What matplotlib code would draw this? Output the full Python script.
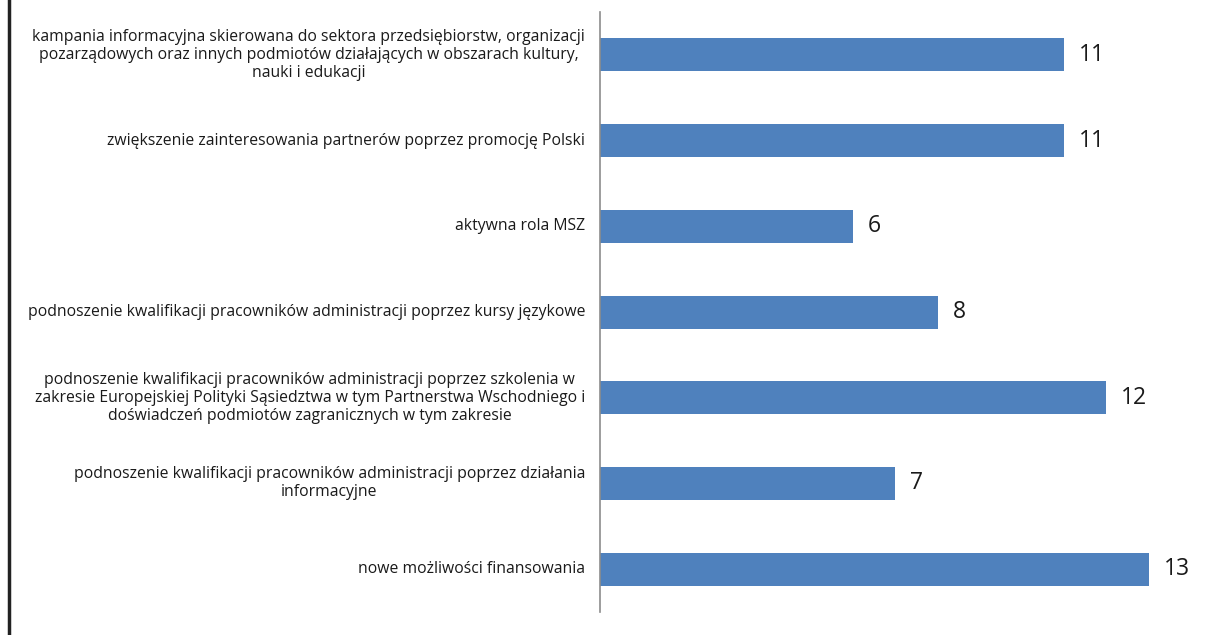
import matplotlib
matplotlib.use("Agg")
import matplotlib.pyplot as plt
from matplotlib.lines import Line2D

categories = [
    "kampania informacyjna skierowana do sektora przedsiębiorstw, organizacji\npozarządowych oraz innych podmiotów działających w obszarach kultury,\nnauki i edukacji",
    "zwiększenie zainteresowania partnerów poprzez promocję Polski",
    "aktywna rola MSZ",
    "podnoszenie kwalifikacji pracowników administracji poprzez kursy językowe",
    "podnoszenie kwalifikacji pracowników administracji poprzez szkolenia w\nzakresie Europejskiej Polityki Sąsiedztwa w tym Partnerstwa Wschodniego i\ndoświadczeń podmiotów zagranicznych w tym zakresie",
    "podnoszenie kwalifikacji pracowników administracji poprzez działania\ninformacyjne",
    "nowe możliwości finansowania",
]
values = [11, 11, 6, 8, 12, 7, 13]

W, H = 1208, 635
fig = plt.figure(figsize=(W / 100, H / 100), dpi=100)
fig.patch.set_facecolor("white")

# axes in pixel coords: x 600..1208, y 12..612 (from top)
left, right = 600, 1208
top, bottom = 12, 612
ax = fig.add_axes([left / W, 1 - bottom / H, (right - left) / W, (bottom - top) / H])
px_per_unit = 42.2
ax.set_xlim(0, (right - left) / px_per_unit)
n = len(values)
ax.set_ylim(n - 0.5, -0.5)

ypos = list(range(n))
ax.barh(ypos, values, height=0.385, color="#4F81BD", edgecolor="none")

for y, v in zip(ypos, values):
    ax.text(v + 15 / px_per_unit, y, str(v), va="center", ha="left",
            fontsize=16.5, color="#1a1a1a", family=["Open Sans", "DejaVu Sans"])

for y, lab in zip(ypos, categories):
    ax.text(-15 / px_per_unit, y, lab, ha="right", va="center", multialignment="center",
            fontsize=11.3, color="#1a1a1a", family=["Open Sans", "DejaVu Sans"],
            linespacing=1.16)

for s in ["top", "right", "bottom"]:
    ax.spines[s].set_visible(False)
ax.spines["left"].set_color("#8c8c8c")
ax.spines["left"].set_linewidth(1.2)
ax.set_xticks([])
ax.set_yticks([])
ax.patch.set_alpha(0)

# left border line of the frame
fig.add_artist(Line2D([9 / W, 9 / W], [0, 1], transform=fig.transFigure,
                      color="#222222", linewidth=2.5))

fig.savefig("out.png", dpi=100, facecolor="white")
